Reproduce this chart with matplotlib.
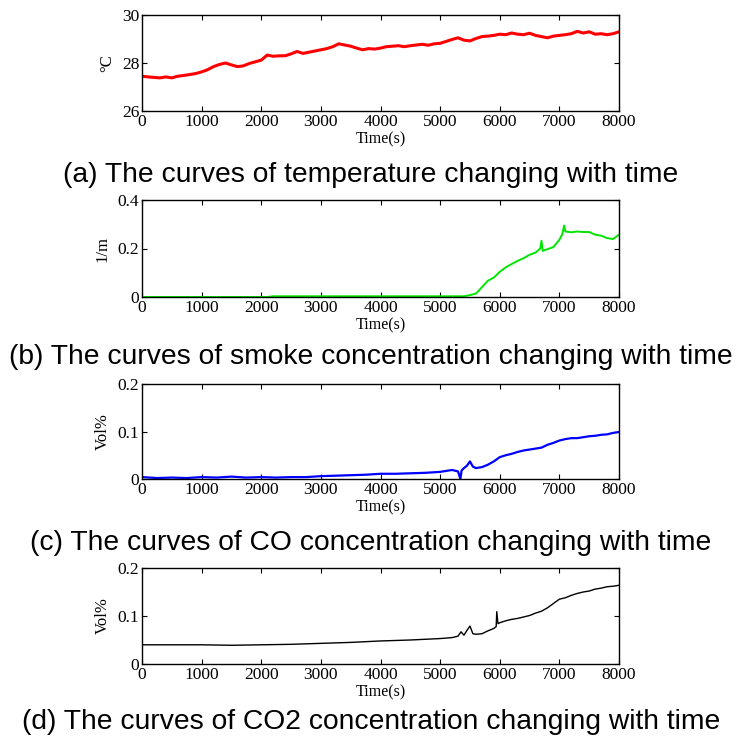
import matplotlib
matplotlib.use("Agg")
import matplotlib.pyplot as plt

# time axis (s) and readings taken off the original figure
temp_t = list(range(0, 8001, 100))
temp_v = [27.45, 27.42, 27.40, 27.38, 27.42, 27.38, 27.45, 27.48, 27.52, 27.56,
          27.63, 27.72, 27.85, 27.94, 28.00, 27.92, 27.85, 27.88, 27.98, 28.05,
          28.12, 28.33, 28.28, 28.30, 28.30, 28.38, 28.48, 28.40, 28.45, 28.50,
          28.55, 28.60, 28.68, 28.80, 28.75, 28.70, 28.62, 28.55, 28.60, 28.58,
          28.62, 28.68, 28.70, 28.72, 28.68, 28.72, 28.75, 28.78, 28.74, 28.80,
          28.82, 28.90, 28.98, 29.05, 28.95, 28.92, 29.02, 29.10, 29.12, 29.15,
          29.20, 29.18, 29.25, 29.20, 29.18, 29.24, 29.15, 29.10, 29.05, 29.12,
          29.15, 29.18, 29.22, 29.32, 29.25, 29.30, 29.20, 29.22, 29.18, 29.22,
          29.30]

smoke_t = [0, 2100, 2200, 5400, 5500, 5600, 5700, 5800, 5900, 6000, 6100, 6200,
           6300, 6400, 6500, 6600, 6680, 6700, 6720, 6800, 6900, 7000, 7050, 7080,
           7100, 7200, 7300, 7400, 7500, 7600, 7700, 7800, 7900, 8000]
smoke_v = [0.0, 0.0, 0.003, 0.003, 0.008, 0.014, 0.040, 0.067, 0.080, 0.104,
           0.122, 0.136, 0.149, 0.160, 0.174, 0.183, 0.200, 0.232, 0.190, 0.197,
           0.206, 0.236, 0.260, 0.295, 0.270, 0.267, 0.270, 0.268, 0.268, 0.257,
           0.253, 0.243, 0.239, 0.257]

co_t = [0, 250, 500, 750, 1000, 1250, 1500, 1750, 2000, 2250, 2500, 2750, 3000,
        3250, 3500, 3750, 4000, 4250, 4500, 4750, 5000, 5200, 5300, 5340, 5360,
        5400, 5450, 5500, 5550, 5600, 5700, 5800, 5900, 6000, 6100, 6200, 6300,
        6400, 6500, 6600, 6700, 6800, 6900, 7000, 7100, 7200, 7300, 7400, 7500,
        7600, 7700, 7800, 7900, 8000]
co_v = [0.004, 0.002, 0.003, 0.002, 0.004, 0.003, 0.005, 0.003, 0.004, 0.003,
        0.004, 0.004, 0.006, 0.007, 0.008, 0.009, 0.011, 0.011, 0.012, 0.013,
        0.015, 0.019, 0.016, 0.000, 0.018, 0.023, 0.028, 0.037, 0.026, 0.023,
        0.025, 0.030, 0.037, 0.046, 0.050, 0.053, 0.057, 0.060, 0.062, 0.064,
        0.066, 0.072, 0.076, 0.081, 0.084, 0.086, 0.086, 0.088, 0.090, 0.091,
        0.093, 0.094, 0.097, 0.099]

co2_t = [0, 500, 1000, 1500, 2000, 2500, 3000, 3500, 4000, 4500, 5000, 5200,
         5300, 5350, 5400, 5450, 5500, 5550, 5600, 5700, 5800, 5900, 5940, 5950,
         5970, 6000, 6100, 6200, 6300, 6400, 6500, 6600, 6700, 6800, 6900, 7000,
         7100, 7200, 7300, 7400, 7500, 7600, 7700, 7800, 7900, 8000]
co2_v = [0.040, 0.040, 0.040, 0.039, 0.040, 0.041, 0.043, 0.045, 0.048, 0.050,
         0.053, 0.055, 0.058, 0.067, 0.060, 0.070, 0.079, 0.063, 0.062, 0.063,
         0.069, 0.074, 0.078, 0.109, 0.084, 0.086, 0.090, 0.093, 0.095, 0.098,
         0.101, 0.106, 0.110, 0.117, 0.126, 0.135, 0.138, 0.143, 0.147, 0.150,
         0.152, 0.156, 0.158, 0.161, 0.162, 0.164]

panels = [
    (temp_t, temp_v, "#ff0000", 2.2, "\u00b0C", (26, 30), [26, 28, 30], ["26", "28", "30"],
     "(a) The curves of temperature changing with time"),
    (smoke_t, smoke_v, "#00e600", 1.4, "1/m", (0, 0.4), [0, 0.2, 0.4], ["0", "0.2", "0.4"],
     "(b) The curves of smoke concentration changing with time"),
    (co_t, co_v, "#0000ff", 1.6, "Vol%", (0, 0.2), [0, 0.1, 0.2], ["0", "0.1", "0.2"],
     "(c) The curves of CO concentration changing with time"),
    (co2_t, co2_v, "#000000", 1.0, "Vol%", (0, 0.2), [0, 0.1, 0.2], ["0", "0.1", "0.2"],
     "(d) The curves of CO2 concentration changing with time"),
]

W, H = 737.0, 739.0
boxes = [(15, 111), (200, 297), (384, 479), (568, 664)]   # top / bottom in px
captions_y = [175, 357, 543, 722]
left, right = 142, 619

SERIF = "Liberation Serif"
SANS = "Liberation Sans"

fig = plt.figure(figsize=(7.37, 7.39), dpi=100)

for (t, v, col, lw, ylab, ylim, yt, ytl, cap), (top, bot), cy in zip(panels, boxes, captions_y):
    ax = fig.add_axes([left / W, 1 - bot / H, (right - left) / W, (bot - top) / H])
    ax.plot(t, v, color=col, lw=lw)
    ax.set_xlim(0, 8000)
    ax.set_ylim(*ylim)
    ax.set_xticks(range(0, 8001, 1000))
    ax.set_xticklabels([str(x) for x in range(0, 8001, 1000)], family=SERIF, fontsize=12.5)
    ax.set_yticks(yt)
    ax.set_yticklabels(ytl, family=SERIF, fontsize=12.5)
    ax.tick_params(direction="in", top=True, right=True, length=3.5, width=0.8, pad=2)
    ax.set_xlabel("Time(s)", family=SERIF, fontsize=11.5, labelpad=1)
    ax.set_ylabel(ylab, family=SERIF, fontsize=12, labelpad=5)
    for s in ax.spines.values():
        s.set_linewidth(1.0)
    fig.text(0.503, 1 - cy / H, cap, family=SANS, fontsize=20.3,
             ha="center", va="center")

fig.savefig("out.png", dpi=100)
